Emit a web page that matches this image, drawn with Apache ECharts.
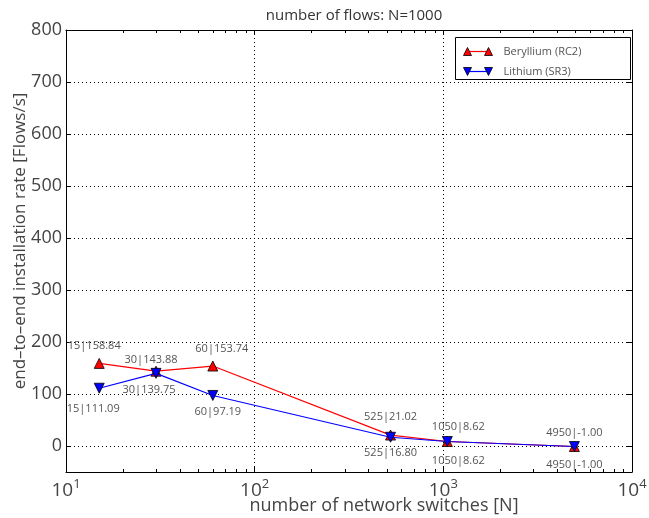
<!DOCTYPE html>
<html>
<head>
<meta charset="utf-8">
<script src="https://cdn.jsdelivr.net/npm/echarts@6/dist/echarts.min.js"></script>
<style>
  html, body { margin: 0; padding: 0; background: #fff; }
  #chart { width: 649px; height: 518px; }
</style>
</head>
<body>
<div id="chart"></div>
<script>
// Number of network switches (x, log scale)
const switches = [15, 30, 60, 525, 1050, 4950];
// Installation rate in flows/s for each controller
const beryllium = [158.84, 143.88, 153.74, 21.02, 8.62, -1.00];
const lithium = [111.09, 139.75, 97.19, 16.80, 8.62, -1.00];
const seriesNames = ['Beryllium (RC2)', 'Lithium (SR3)'];
const titleText = 'number of flows: N=1000';
const xName = 'number of network switches [N]';
const yName = 'end\u2013to\u2013end installation rate [Flows/s]';

// Label nudges (pixels) so the value tags sit clear of the lines
const berylliumNudge = [[-5, -15], [-5, -8], [9, -14], [0, -15], [11, -12], [0, -11]];
const lithiumNudge = [[-6, 18], [-7, 14], [5, 13], [0, 13], [11, 16], [0, 15]];

const FONT = '"Open Sans", "Noto Sans", sans-serif';
const TXT = '#444';
const RED = '#ff0000';
const BLUE = '#0000ff';

// minor ticks of the log axis: 2..9 in every decade
const minorTicks = [];
for (let e = 1; e < 4; e++) {
  for (let m = 2; m <= 9; m++) minorTicks.push(m * Math.pow(10, e));
}

function pointsFor(values, nudges, below) {
  return switches.map((x, i) => ({
    value: [x, values[i]],
    label: {
      position: below ? 'bottom' : 'top',
      distance: 0,
      offset: [nudges[i][0], nudges[i][1] + (below ? -8 : 8)]
    }
  }));
}

const chart = echarts.init(document.getElementById('chart'), null, { renderer: 'canvas' });

const labelStyle = {
  show: true,
  fontFamily: FONT,
  fontSize: 11,
  color: '#555',
  formatter: p => p.value[0] + '|' + p.value[1].toFixed(2)
};

const supLabel = {
  fontFamily: FONT,
  color: TXT,
  margin: 6,
  formatter: v => {
    const e = Math.round(Math.log10(v));
    return '{b|10}{s|' + e + '}';
  },
  rich: {
    b: { fontFamily: FONT, fontSize: 19, color: TXT },
    s: { fontFamily: FONT, fontSize: 13, color: TXT, padding: [0, 0, 12, 0] }
  }
};

chart.setOption({
  animation: false,
  backgroundColor: '#fff',
  title: {
    text: titleText,
    left: 349,
    textAlign: 'center',
    top: 3,
    textStyle: { fontFamily: FONT, fontSize: 15, fontWeight: 'normal', color: '#333' }
  },
  grid: { left: 66, right: 17, top: 30, bottom: 46, containLabel: false, outerBoundsMode: 'none' },
  xAxis: [{
    type: 'log',
    logBase: 10,
    min: 10,
    max: 10000,
    name: xName,
    nameLocation: 'middle',
    nameGap: 25,
    nameMoveOverlap: false,
    nameTextStyle: { fontFamily: FONT, fontSize: 18, color: TXT, padding: [0, 0, 0, 70] },
    axisLine: { onZero: false, lineStyle: { color: '#000', width: 1 } },
    axisTick: { inside: true, length: 5, lineStyle: { color: '#000' } },
    axisLabel: supLabel,
    splitLine: { show: true, lineStyle: { color: '#000', type: [1, 3], width: 1 } },
    minorTick: { show: false }
  }, {
    type: 'log',
    logBase: 10,
    min: 10,
    max: 10000,
    position: 'top',
    axisLine: { onZero: false, lineStyle: { color: '#000', width: 1 } },
    axisTick: { inside: true, length: 5, lineStyle: { color: '#000' } },
    axisLabel: { show: false },
    splitLine: { show: false }
  }],
  yAxis: [{
    type: 'value',
    min: -50,
    max: 800,
    splitNumber: 9,
    name: yName,
    nameLocation: 'middle',
    nameGap: 37,
    nameMoveOverlap: false,
    nameTextStyle: { fontFamily: FONT, fontSize: 17, color: TXT, padding: [0, 0, 0, 20] },
    axisLine: { show: true, onZero: false, lineStyle: { color: '#000', width: 1 } },
    axisTick: { inside: true, length: 5, lineStyle: { color: '#000' } },
    axisLabel: {
      fontFamily: FONT, fontSize: 18, color: TXT, margin: 4,
      formatter: v => (v % 100 === 0 ? String(v) : '')
    },
    splitLine: { show: true, lineStyle: { color: '#000', type: [1, 3], width: 1 } }
  }, {
    type: 'value',
    min: -50,
    max: 800,
    splitNumber: 9,
    position: 'right',
    axisLine: { show: true, onZero: false, lineStyle: { color: '#000', width: 1 } },
    axisTick: { inside: true, length: 5, lineStyle: { color: '#000' } },
    axisLabel: { show: false },
    splitLine: { show: false }
  }],
  series: [
    {
      // minor ticks on the bottom and top edges of the log axis
      type: 'custom',
      silent: true,
      xAxisIndex: 0,
      yAxisIndex: 0,
      z: 5,
      data: minorTicks,
      renderItem: (params, api) => {
        const x = Math.round(api.coord([api.value(0), 0])[0]) + 0.5;
        const cs = params.coordSys;
        return {
          type: 'group',
          children: [
            { type: 'line', shape: { x1: x, y1: cs.y + cs.height, x2: x, y2: cs.y + cs.height - 3 }, style: { stroke: '#000', lineWidth: 1 } },
            { type: 'line', shape: { x1: x, y1: cs.y, x2: x, y2: cs.y + 3 }, style: { stroke: '#000', lineWidth: 1 } }
          ]
        };
      }
    },
    {
      name: seriesNames[0],
      type: 'line',
      data: pointsFor(beryllium, berylliumNudge, false),
      symbol: 'triangle',
      symbolSize: 10,
      lineStyle: { color: RED, width: 1.2 },
      itemStyle: { color: RED, borderColor: '#000', borderWidth: 0.8 },
      label: labelStyle,
      z: 3
    },
    {
      name: seriesNames[1],
      type: 'line',
      data: pointsFor(lithium, lithiumNudge, true),
      symbol: 'triangle',
      symbolRotate: 180,
      symbolSize: 10,
      lineStyle: { color: BLUE, width: 1.2 },
      itemStyle: { color: BLUE, borderColor: '#000', borderWidth: 0.8 },
      label: labelStyle,
      z: 4
    }
  ],
  graphic: [{
    // legend box with line + two markers per entry
    type: 'group',
    left: 455,
    top: 37,
    children: [
      { type: 'rect', shape: { x: 0, y: 0, width: 175, height: 42 }, style: { fill: '#fff', stroke: '#000', lineWidth: 1 } },
      { type: 'line', shape: { x1: 12, y1: 14, x2: 33, y2: 14 }, style: { stroke: RED, lineWidth: 1.2 } },
      { type: 'polygon', shape: { points: [[12, 10], [8, 18], [16, 18]] }, style: { fill: RED, stroke: '#000', lineWidth: 0.8 } },
      { type: 'polygon', shape: { points: [[33, 10], [29, 18], [37, 18]] }, style: { fill: RED, stroke: '#000', lineWidth: 0.8 } },
      { type: 'text', x: 48, y: 14, style: { text: seriesNames[0], fontFamily: FONT, fontSize: 11, fill: '#555', verticalAlign: 'middle' } },
      { type: 'line', shape: { x1: 12, y1: 34, x2: 33, y2: 34 }, style: { stroke: BLUE, lineWidth: 1.2 } },
      { type: 'polygon', shape: { points: [[12, 38], [8, 30], [16, 30]] }, style: { fill: BLUE, stroke: '#000', lineWidth: 0.8 } },
      { type: 'polygon', shape: { points: [[33, 38], [29, 30], [37, 30]] }, style: { fill: BLUE, stroke: '#000', lineWidth: 0.8 } },
      { type: 'text', x: 48, y: 34, style: { text: seriesNames[1], fontFamily: FONT, fontSize: 11, fill: '#555', verticalAlign: 'middle' } }
    ]
  }]
});
</script>
</body>
</html>
